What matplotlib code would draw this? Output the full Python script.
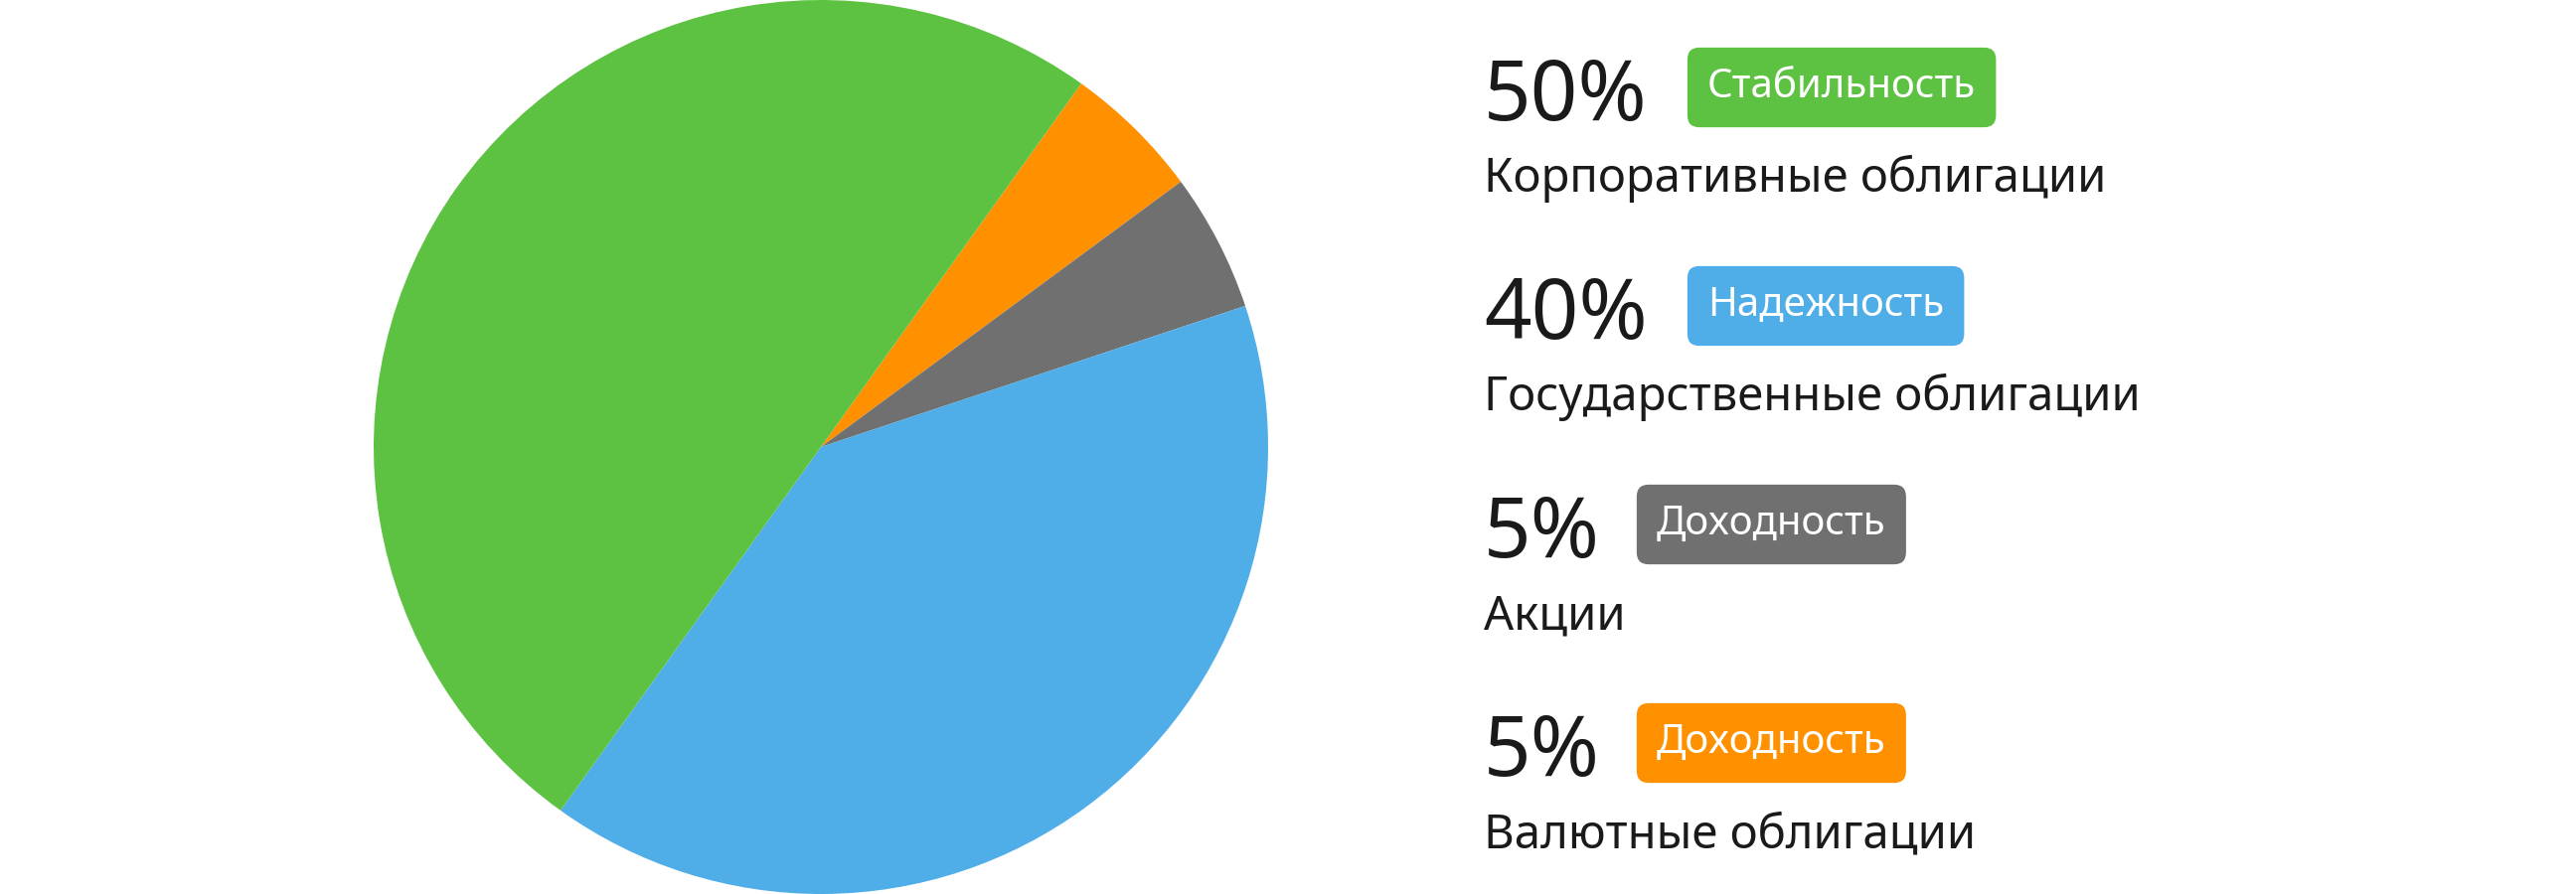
import matplotlib
matplotlib.use('Agg')
import matplotlib.pyplot as plt

# slices in drawing order (clockwise from the top-right)
slice_values = [5, 5, 40, 50]
slice_colors = ['#FF9100', '#707070', '#4FADE8', '#5DC142']

percents = ['50%', '40%', '5%', '5%']
badges = ['Стабильность', 'Надежность', 'Доходность', 'Доходность']
badge_colors = ['#5DC142', '#4FADE8', '#707070', '#FF9100']
labels = ['Корпоративные облигации', 'Государственные облигации', 'Акции', 'Валютные облигации']

plt.rcParams['font.family'] = ['Noto Sans', 'DejaVu Sans']

W, H = 2592, 900
fig = plt.figure(figsize=(W / 100, H / 100), dpi=100)
ax = fig.add_axes([(826 - 450) / W, 0, 900 / W, 1])
ax.pie(slice_values, colors=slice_colors, startangle=54.4, counterclock=False,
       radius=1.0, wedgeprops=dict(linewidth=0))
ax.set_xlim(-1, 1)
ax.set_ylim(-1, 1)
ax.set_aspect('equal')

x0 = 1493
row_gap = 220
for i, (p, b, bc, lab) in enumerate(zip(percents, badges, badge_colors, labels)):
    base = 121 + i * row_gap
    fig.text(x0 / W, 1 - base / H, p, fontsize=60, fontweight='black',
             color='#1a1a1a', va='baseline', ha='left')
    bx = 1718 if i < 2 else 1667
    fig.text(bx / W, 1 - (base - 33) / H, b, fontsize=29, color='white',
             va='center', ha='left',
             bbox=dict(boxstyle='round,pad=0.5,rounding_size=0.3', fc=bc, ec='none'))
    fig.text(x0 / W, 1 - (base + 72) / H, lab, fontsize=34, color='#1a1a1a',
             va='baseline', ha='left')

fig.savefig('out.png', dpi=100)
